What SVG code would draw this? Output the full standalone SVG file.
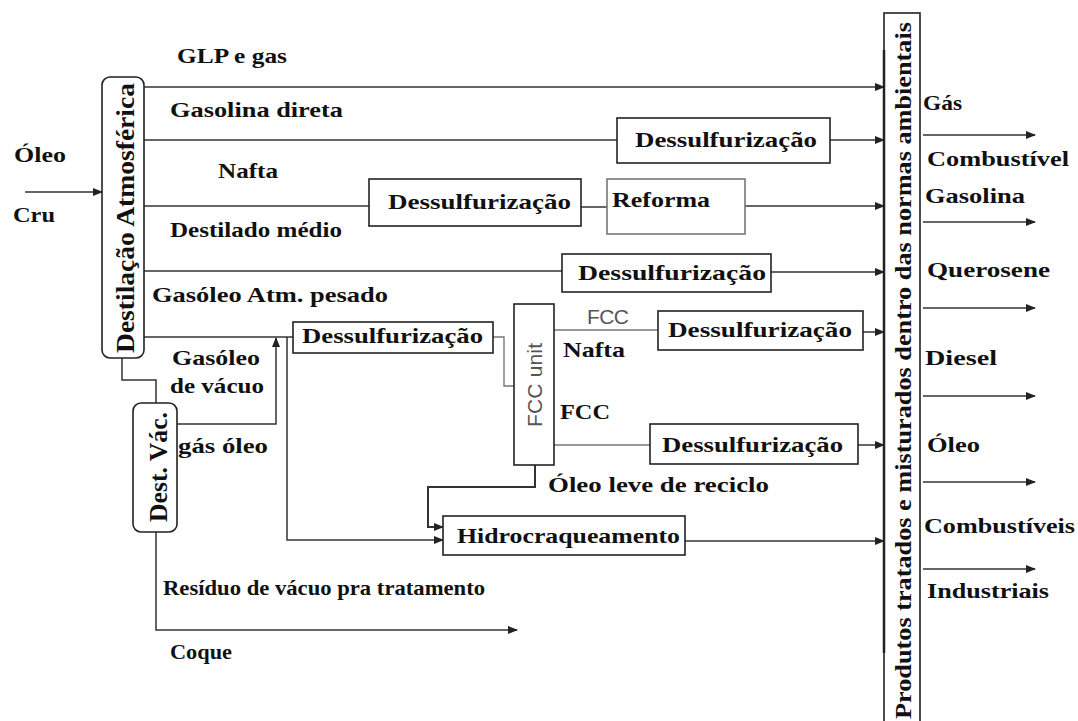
<svg xmlns="http://www.w3.org/2000/svg" width="1078" height="721" viewBox="0 0 1078 721">
<style>
.t{font-family:"Liberation Serif",serif;font-weight:bold;font-size:22px;fill:#111}
.s{font-family:"Liberation Sans",sans-serif;font-size:21px;fill:#555}
.box{fill:#fff;stroke:#222;stroke-width:1.6}
.gbox{fill:#fff;stroke:#777;stroke-width:1.6}
.ln{fill:none;stroke:#333;stroke-width:1.5}
.gl{fill:none;stroke:#777;stroke-width:1.4}
.ar{marker-end:url(#ah)}
</style>
<defs>
<marker id="ah" markerWidth="10" markerHeight="8" refX="9" refY="4" orient="auto" markerUnits="userSpaceOnUse">
<path d="M0,0 L10,4 L0,8 z" fill="#222"/>
</marker>
</defs>
<rect width="1078" height="721" fill="#fff"/>

<g id="connectors">
<path class="ln ar" d="M25,192 H102"/>
<path class="ln ar" d="M144,87 H884"/>
<path class="ln" d="M144,140 H617"/>
<path class="ln ar" d="M830,140 H884"/>
<path class="ln" d="M144,206 H369"/>
<path class="ln" d="M581,207 H607"/>
<path class="ln ar" d="M745,206 H884"/>
<path class="ln" d="M144,271 H562"/>
<path class="ln ar" d="M771,272 H884"/>
<path class="ln" d="M144,337 H293"/>
<path class="ln ar" d="M287,337 V540 H443"/>
<path class="ln ar" d="M177,424 H276 V338"/>
<path class="ln" d="M122,358 V380 H156 V403"/>
<path class="ln ar" d="M156,532 V630 H517"/>
<path class="gl" d="M493,337 H504 V386 H514"/>
<path class="gl" d="M554,330 H658"/>
<path class="ln ar" d="M863,332 H884"/>
<path class="gl" d="M554,445 H650"/>
<path class="ln ar" d="M858,445 H884"/>
<path class="ln ar" d="M535,465 V487 H428 V527 H443" style="stroke-width:2"/>
<path class="ln ar" d="M685,541 H884"/>
<path class="ln ar" d="M923,135 H1035"/>
<path class="ln ar" d="M923,222 H1035"/>
<path class="ln ar" d="M923,308 H1035"/>
<path class="ln ar" d="M923,396 H1035"/>
<path class="ln ar" d="M923,482 H1035"/>
<path class="ln ar" d="M923,569 H1035"/>
</g>

<g id="atm">
<rect class="box" x="102" y="77" width="42" height="281" rx="8"/>
<text class="t" style="font-size:26px" transform="translate(134,353) rotate(-90)" textLength="270" lengthAdjust="spacingAndGlyphs">Destilação Atmosférica</text>
</g>
<g id="vac">
<rect class="box" x="133" y="403" width="44" height="129" rx="8"/>
<text class="t" style="font-size:25px" transform="translate(167,522) rotate(-90)" textLength="110" lengthAdjust="spacingAndGlyphs">Dest. Vác.</text>
</g>
<g id="dess1">
<rect class="box" x="617" y="118" width="213" height="45"/>
<text class="t" x="635" y="147" textLength="182" lengthAdjust="spacingAndGlyphs">Dessulfurização</text>
</g>
<g id="dess2">
<rect class="box" x="369" y="179" width="212" height="47"/>
<text class="t" x="388" y="209" textLength="183" lengthAdjust="spacingAndGlyphs">Dessulfurização</text>
</g>
<g id="reforma">
<rect class="gbox" x="607" y="179" width="138" height="55"/>
<text class="t" x="612" y="207" textLength="98" lengthAdjust="spacingAndGlyphs">Reforma</text>
</g>
<g id="dess3">
<rect class="box" x="562" y="254" width="209" height="38"/>
<text class="t" x="578" y="280" textLength="188" lengthAdjust="spacingAndGlyphs">Dessulfurização</text>
</g>
<g id="dess4">
<rect class="box" x="293" y="322" width="200" height="31"/>
<text class="t" x="302" y="343" textLength="181" lengthAdjust="spacingAndGlyphs">Dessulfurização</text>
</g>
<g id="fcc">
<rect class="box" x="514" y="304" width="40" height="161"/>
<text class="s" transform="translate(542,427) rotate(-90)" textLength="84">FCC unit</text>
</g>
<g id="dess5">
<rect class="box" x="658" y="311" width="205" height="39"/>
<text class="t" x="668" y="337" textLength="184" lengthAdjust="spacingAndGlyphs">Dessulfurização</text>
</g>
<g id="dess6">
<rect class="box" x="650" y="424" width="208" height="40"/>
<text class="t" x="662" y="452" textLength="181" lengthAdjust="spacingAndGlyphs">Dessulfurização</text>
</g>
<g id="hidro">
<rect class="box" x="443" y="516" width="242" height="39"/>
<text class="t" x="457" y="543" textLength="223" lengthAdjust="spacingAndGlyphs">Hidrocraqueamento</text>
</g>
<g id="produtos">
<rect class="box" x="884" y="13" width="36" height="712"/>
<line x1="884" y1="50" x2="884" y2="653" stroke="#222" stroke-width="2.5"/>
<text class="t" style="font-size:23px" transform="translate(911,719) rotate(-90)" textLength="697" lengthAdjust="spacingAndGlyphs">Produtos tratados e misturados dentro das normas ambientais</text>
</g>

<g id="labels">
<text class="t" x="14" y="162" textLength="52" lengthAdjust="spacingAndGlyphs">Óleo</text>
<text class="t" x="13" y="222" textLength="42" lengthAdjust="spacingAndGlyphs">Cru</text>
<text class="t" x="177" y="63" textLength="110" lengthAdjust="spacingAndGlyphs">GLP e gas</text>
<text class="t" x="170" y="117" textLength="173" lengthAdjust="spacingAndGlyphs">Gasolina direta</text>
<text class="t" x="218" y="178" textLength="60" lengthAdjust="spacingAndGlyphs">Nafta</text>
<text class="t" x="170" y="237" textLength="172" lengthAdjust="spacingAndGlyphs">Destilado médio</text>
<text class="t" x="152" y="302" textLength="236" lengthAdjust="spacingAndGlyphs">Gasóleo Atm. pesado</text>
<text class="t" x="172" y="365" textLength="88" lengthAdjust="spacingAndGlyphs">Gasóleo</text>
<text class="t" x="170" y="393" textLength="94" lengthAdjust="spacingAndGlyphs">de vácuo</text>
<text class="t" x="178" y="453" textLength="90" lengthAdjust="spacingAndGlyphs">gás óleo</text>
<text class="t" style="font-size:21px" x="163" y="595" textLength="322" lengthAdjust="spacingAndGlyphs">Resíduo de vácuo pra tratamento</text>
<text class="t" x="170" y="659" textLength="62" lengthAdjust="spacingAndGlyphs">Coque</text>
<text class="s" x="587" y="324" textLength="42">FCC</text>
<text class="t" x="563" y="357" textLength="62" lengthAdjust="spacingAndGlyphs">Nafta</text>
<text class="t" x="560" y="419" textLength="50" lengthAdjust="spacingAndGlyphs">FCC</text>
<text class="t" x="548" y="492" textLength="221" lengthAdjust="spacingAndGlyphs">Óleo leve de reciclo</text>
<text class="t" x="923" y="110" textLength="39" lengthAdjust="spacingAndGlyphs">Gás</text>
<text class="t" x="927" y="166" textLength="142" lengthAdjust="spacingAndGlyphs">Combustível</text>
<text class="t" x="925" y="203" textLength="100" lengthAdjust="spacingAndGlyphs">Gasolina</text>
<text class="t" x="927" y="277" textLength="123" lengthAdjust="spacingAndGlyphs">Querosene</text>
<text class="t" x="925" y="365" textLength="72" lengthAdjust="spacingAndGlyphs">Diesel</text>
<text class="t" x="927" y="452" textLength="53" lengthAdjust="spacingAndGlyphs">Óleo</text>
<text class="t" x="924" y="533" textLength="151" lengthAdjust="spacingAndGlyphs">Combustíveis</text>
<text class="t" x="927" y="598" textLength="122" lengthAdjust="spacingAndGlyphs">Industriais</text>
</g>
</svg>
